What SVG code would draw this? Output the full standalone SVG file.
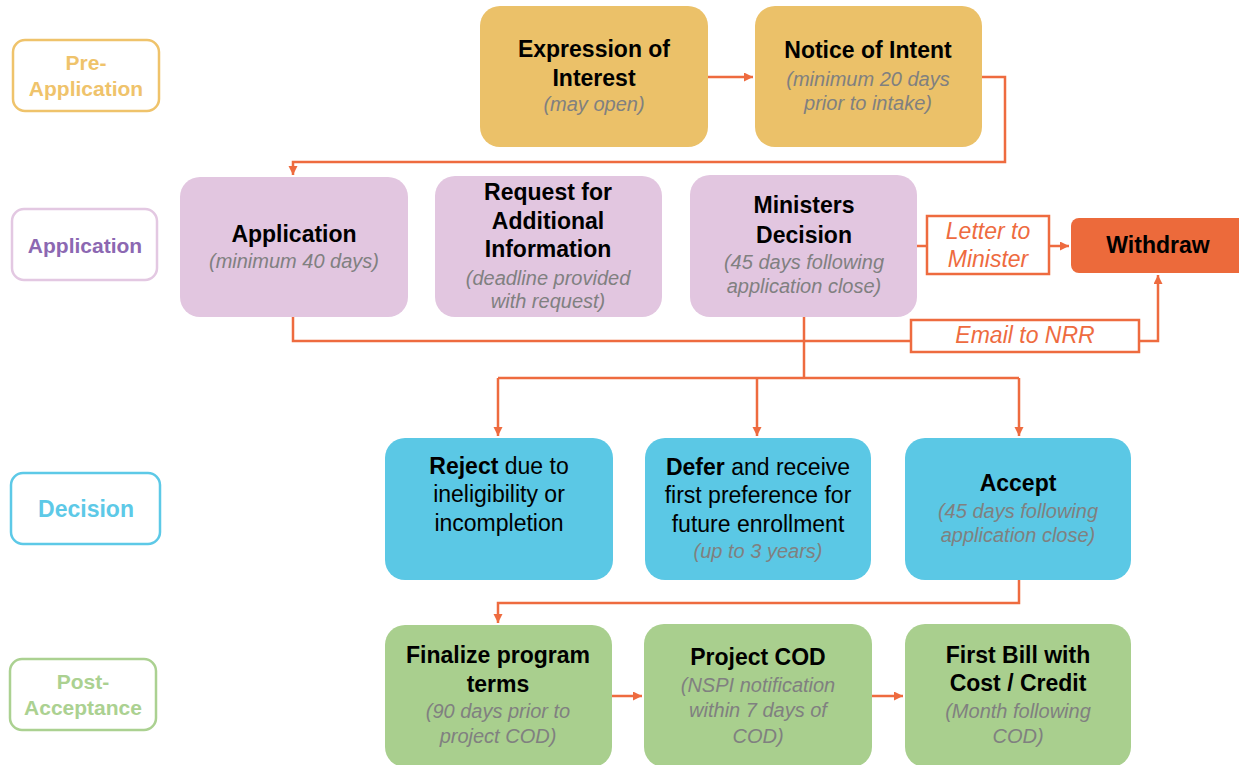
<svg xmlns="http://www.w3.org/2000/svg" width="1239" height="765" viewBox="0 0 1239 765">
<defs>
<marker id="ah" markerUnits="userSpaceOnUse" markerWidth="10" markerHeight="10" refX="9" refY="4.5" orient="auto">
<path d="M0,0 L9,4.5 L0,9 z" fill="#EE6B3F"/>
</marker>
<style>
text{font-family:"Liberation Sans",Arial,sans-serif;text-anchor:middle}
.t{font-size:23px;font-weight:bold;fill:#000}
.r{font-size:23px;fill:#000}
.g{font-size:20px;font-style:italic;fill:#808080}
.o{font-size:23px;font-style:italic;fill:#EE6B3F}
.lab{fill:#fff;stroke-width:2.5}
.lt{font-size:21px;font-weight:bold}
.yel{fill:#EBC169}
.lav{fill:#E2C6E0}
.blu{fill:#5BC8E5}
.grn{fill:#A9CF8E}
.c{fill:none;stroke:#EE6B3F;stroke-width:2.5}
.ob{fill:#fff;stroke:#EE6B3F;stroke-width:2.5}
</style>
</defs>
<rect width="1239" height="765" fill="#fff"/>

<g id="phase-pre">
<rect class="lab" x="13" y="40" width="146" height="71" rx="12" stroke="#EFC36B"/>
<text class="lt" fill="#EFC36B" x="86" y="70">Pre-</text>
<text class="lt" fill="#EFC36B" x="86" y="96">Application</text>
</g>
<g id="phase-app">
<rect class="lab" x="12" y="209" width="145" height="71" rx="12" stroke="#E3C8E2"/>
<text class="lt" fill="#8C68B2" x="85" y="253">Application</text>
</g>
<g id="phase-dec">
<rect class="lab" x="11" y="473" width="149" height="71" rx="12" stroke="#5DC9E7"/>
<text class="lt" fill="#5DC9E7" x="86" y="517" style="font-size:23px">Decision</text>
</g>
<g id="phase-post">
<rect class="lab" x="10" y="659" width="146" height="71" rx="12" stroke="#ABD191"/>
<text class="lt" fill="#ABD191" x="83" y="689">Post-</text>
<text class="lt" fill="#ABD191" x="83" y="715">Acceptance</text>
</g>

<g id="connectors">
<path class="c" d="M708,77 H753" marker-end="url(#ah)"/>
<path class="c" d="M982,77 H1005 V162 H293 V175" marker-end="url(#ah)"/>
<path class="c" d="M293,317 V341 H911"/>
<path class="c" d="M1139,341 H1158 V275" marker-end="url(#ah)"/>
<path class="c" d="M917,246 H927"/>
<path class="c" d="M1049,246 H1069" marker-end="url(#ah)"/>
<path class="c" d="M804,317 V378"/>
<path class="c" d="M498,378 H1019"/>
<path class="c" d="M498,378 V436" marker-end="url(#ah)"/>
<path class="c" d="M757,378 V436" marker-end="url(#ah)"/>
<path class="c" d="M1019,378 V436" marker-end="url(#ah)"/>
<path class="c" d="M1019,580 V603 H498 V623" marker-end="url(#ah)"/>
<path class="c" d="M612,696 H642" marker-end="url(#ah)"/>
<path class="c" d="M872,696 H903" marker-end="url(#ah)"/>
<rect class="ob" x="927" y="216" width="122" height="58"/>
<text class="o" x="988" y="239">Letter to</text>
<text class="o" x="988" y="267">Minister</text>
<rect class="ob" x="911" y="320" width="228" height="32"/>
<text class="o" x="1025" y="343">Email to NRR</text>
</g>

<g id="eoi">
<rect class="yel" x="480" y="6" width="228" height="141" rx="20"/>
<text class="t" x="594" y="57">Expression of</text>
<text class="t" x="594" y="86">Interest</text>
<text class="g" x="594" y="111">(may open)</text>
</g>
<g id="noi">
<rect class="yel" x="755" y="6" width="227" height="141" rx="20"/>
<text class="t" x="868" y="58">Notice of Intent</text>
<text class="g" x="868" y="86">(minimum 20 days</text>
<text class="g" x="868" y="110">prior to intake)</text>
</g>
<g id="application">
<rect class="lav" x="180" y="177" width="228" height="140" rx="20"/>
<text class="t" x="294" y="242">Application</text>
<text class="g" x="294" y="268">(minimum 40 days)</text>
</g>
<g id="rfai">
<rect class="lav" x="435" y="176" width="227" height="141" rx="20"/>
<text class="t" x="548" y="200">Request for</text>
<text class="t" x="548" y="229">Additional</text>
<text class="t" x="548" y="257">Information</text>
<text class="g" x="548" y="285">(deadline provided</text>
<text class="g" x="548" y="308">with request)</text>
</g>
<g id="ministers">
<rect class="lav" x="690" y="175" width="227" height="142" rx="20"/>
<text class="t" x="804" y="213">Ministers</text>
<text class="t" x="804" y="243">Decision</text>
<text class="g" x="804" y="269">(45 days following</text>
<text class="g" x="804" y="293">application close)</text>
</g>
<g id="withdraw">
<rect x="1071" y="218" width="190" height="55" rx="8" fill="#EC6A3B"/>
<text class="t" x="1158" y="253">Withdraw</text>
</g>
<g id="reject">
<rect class="blu" x="385" y="438" width="228" height="142" rx="20"/>
<text class="r" x="499" y="474"><tspan font-weight="bold">Reject</tspan> due to</text>
<text class="r" x="499" y="502">ineligibility or</text>
<text class="r" x="499" y="531">incompletion</text>
</g>
<g id="defer">
<rect class="blu" x="645" y="438" width="226" height="142" rx="20"/>
<text class="r" x="758" y="475"><tspan font-weight="bold">Defer</tspan> and receive</text>
<text class="r" x="758" y="503">first preference for</text>
<text class="r" x="758" y="532">future enrollment</text>
<text class="g" x="758" y="558">(up to 3 years)</text>
</g>
<g id="accept">
<rect class="blu" x="905" y="438" width="226" height="142" rx="20"/>
<text class="t" x="1018" y="491">Accept</text>
<text class="g" x="1018" y="518">(45 days following</text>
<text class="g" x="1018" y="542">application close)</text>
</g>
<g id="finalize">
<rect class="grn" x="385" y="625" width="227" height="142" rx="20"/>
<text class="t" x="498" y="663">Finalize program</text>
<text class="t" x="498" y="692">terms</text>
<text class="g" x="498" y="718">(90 days prior to</text>
<text class="g" x="498" y="743">project COD)</text>
</g>
<g id="cod">
<rect class="grn" x="644" y="624" width="228" height="143" rx="20"/>
<text class="t" x="758" y="665">Project COD</text>
<text class="g" x="758" y="692">(NSPI notification</text>
<text class="g" x="758" y="717">within 7 days of</text>
<text class="g" x="758" y="743">COD)</text>
</g>
<g id="firstbill">
<rect class="grn" x="905" y="624" width="226" height="143" rx="20"/>
<text class="t" x="1018" y="663">First Bill with</text>
<text class="t" x="1018" y="691">Cost / Credit</text>
<text class="g" x="1018" y="718">(Month following</text>
<text class="g" x="1018" y="743">COD)</text>
</g>
</svg>
